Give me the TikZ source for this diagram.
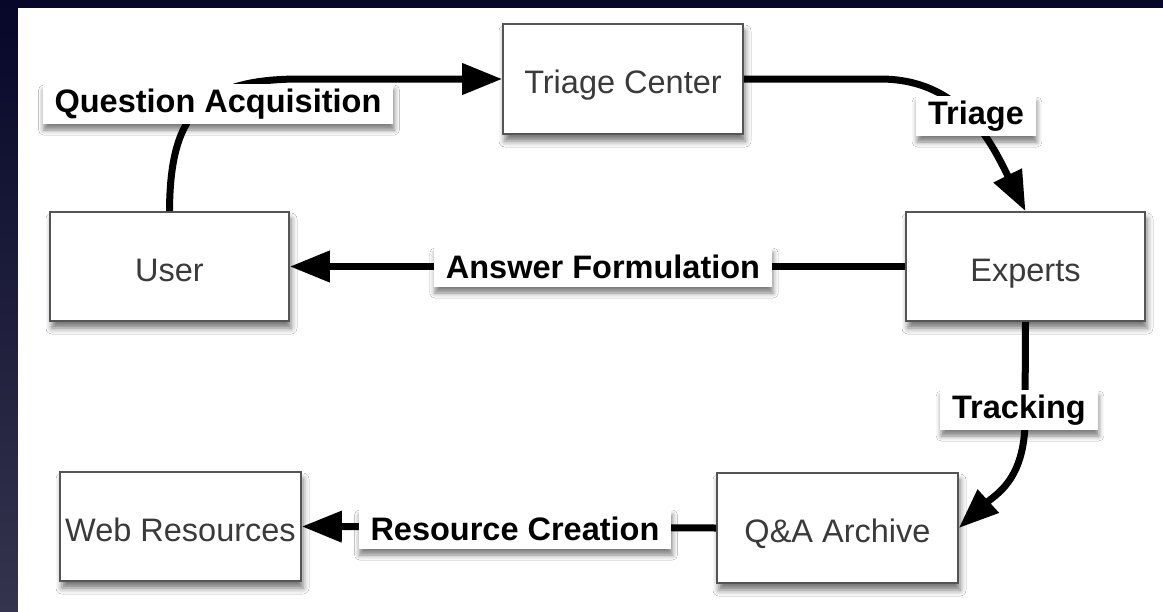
\documentclass[tikz,border=0pt]{standalone}
\usepackage{fontspec}
\setmainfont{Liberation Sans}
\usetikzlibrary{arrows.meta,shadows.blur}
\definecolor{bgtop}{HTML}{07072A}
\definecolor{bgbot}{HTML}{34344E}
\definecolor{boxline}{HTML}{555555}
\definecolor{boxtext}{HTML}{3A3A3A}
\begin{document}
\begin{tikzpicture}[x=1pt,y=-1pt,
  box/.style={draw=boxline, line width=1.6pt, fill=white, inner sep=0pt,
    font=\fontsize{32.5}{38}\selectfont, text=boxtext,
    text height=31pt, text depth=2pt,
    blur shadow={shadow xshift=2pt, shadow yshift=-7pt,
      shadow blur radius=6pt, shadow opacity=55}},
  tag/.style={fill=white, inner xsep=12pt, inner ysep=0pt, minimum height=40pt,
    font=\fontsize{32.5}{38}\selectfont\bfseries, text=black,
    blur shadow={shadow xshift=1pt, shadow yshift=-6pt,
      shadow blur radius=5pt, shadow opacity=50}},
  flow/.style={line width=7pt, -{Triangle[length=40pt,width=30pt]}}
]
\useasboundingbox (0,0) rectangle (1163,611);
% backdrop and sheet
\shade[top color=bgtop, bottom color=bgbot] (0,0) rectangle (1163,611);
\fill[white] (18,8) rectangle (1170,620);

% stations of the service
\node[box, minimum width=240pt, minimum height=110pt] (triage)  at (623,79)     {Triage Center};
\node[box, minimum width=239pt, minimum height=109pt] (user)    at (169.5,266.5) {User};
\node[box, minimum width=239pt, minimum height=109pt] (experts) at (1025.5,266.5) {Experts};
\node[box, minimum width=241pt, minimum height=109pt] (web)     at (180.5,526.5) {Web Resources};
\node[box, minimum width=241pt, minimum height=110pt] (archive) at (837.5,528)   {Q\&A Archive};

% flows between stations
\draw[flow] (user.north) .. controls (170,115) and (200,79) .. (300,79) -- (triage.west);
\draw[flow] (triage.east) -- (880,79) .. controls (960,79) and (990,140) .. (experts.north);
\draw[flow] (experts.west) -- (user.east);
\draw[flow] (experts.south) -- (1025,420) .. controls (1025,480) and (995,495) .. (archive.east);
\draw[flow] (archive.west) -- (web.east);

% flow labels
\node[tag] (lqa) at (218,104)   {Question Acquisition};
\node[tag] (ltr) at (976,116)   {Triage};
\node[tag] (laf) at (603,267)   {Answer Formulation};
\node[tag] (ltk) at (1019,410)  {Tracking};
\node[tag] (lrc) at (515,529)   {Resource Creation};
\end{tikzpicture}
\end{document}
